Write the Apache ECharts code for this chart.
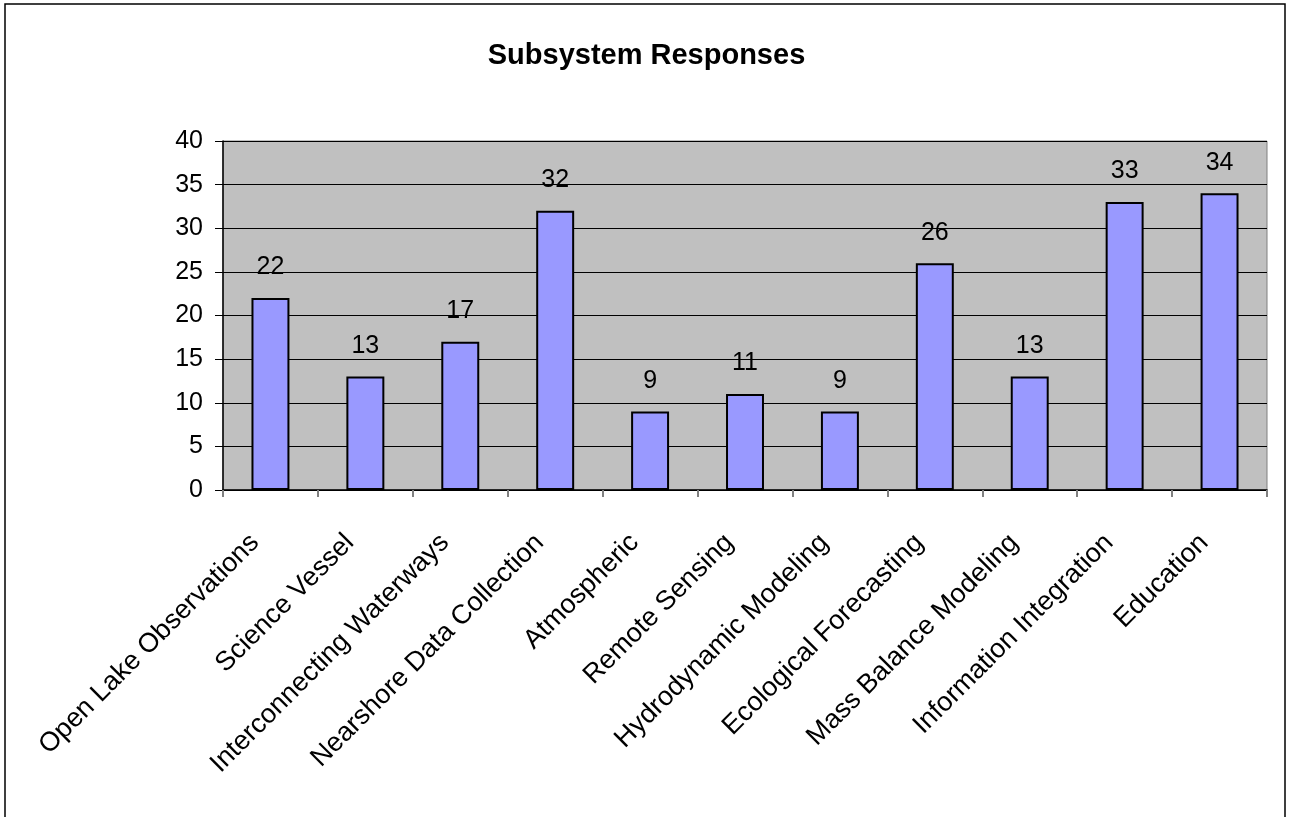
<!DOCTYPE html>
<html>
<head>
<meta charset="utf-8">
<script src="https://cdn.jsdelivr.net/npm/echarts@6/dist/echarts.min.js"></script>
<style>
  html, body { margin: 0; padding: 0; background: #fff; }
  #chart { width: 1293px; height: 817px; }
</style>
</head>
<body>
<div id="chart"></div>
<script>
// 数据
var categories = ['Open Lake Observations', 'Science Vessel', 'Interconnecting Waterways',
    'Nearshore Data Collection', 'Atmospheric', 'Remote Sensing', 'Hydrodynamic Modeling',
    'Ecological Forecasting', 'Mass Balance Modeling', 'Information Integration', 'Education'];
var responses = [22, 13, 17, 32, 9, 11, 9, 26, 13, 33, 34];

var myChart = echarts.init(document.getElementById('chart'));
myChart.setOption({
    animation: false,
    textStyle: { fontFamily: 'Liberation Sans, Arial, sans-serif' },
    title: {
        text: 'Subsystem Responses',
        left: 'center',
        top: 36,
        textStyle: { fontSize: 29, fontWeight: 'bold', color: '#000', fontFamily: 'Liberation Sans, Arial, sans-serif' }
    },
    // 外框
    graphic: [{
        type: 'rect',
        shape: { x: 5, y: 4, width: 1280, height: 840 },
        style: { fill: 'none', stroke: '#000', lineWidth: 1.5 },
        silent: true
    }],
    grid: {
        left: 223, right: 26, top: 141, bottom: 327,
        show: true, backgroundColor: '#C0C0C0', borderColor: '#808080', borderWidth: 1
    },
    xAxis: {
        type: 'category',
        data: categories,
        axisLine: { lineStyle: { color: '#000', width: 1.5 } },
        axisTick: { show: true, length: 7, lineStyle: { color: '#808080', width: 2 } },
        axisLabel: { rotate: 45, fontSize: 27, color: '#000', margin: 33, padding: [0, 22, 0, 0], interval: 0 }
    },
    yAxis: {
        type: 'value',
        min: 0, max: 40, interval: 5,
        axisLine: { show: true, lineStyle: { color: '#000', width: 1.5 } },
        axisTick: { show: true, length: 8, lineStyle: { color: '#000' } },
        axisLabel: { fontSize: 25, color: '#000', margin: 20 },
        splitLine: { lineStyle: { color: '#000', width: 1 } }
    },
    series: [{
        type: 'bar',
        data: responses,
        barWidth: '40%',
        itemStyle: { color: '#9999FF', borderColor: '#000', borderWidth: 2 },
        label: { show: true, position: 'top', distance: 18, fontSize: 25, color: '#000' }
    }]
});
</script>
</body>
</html>
